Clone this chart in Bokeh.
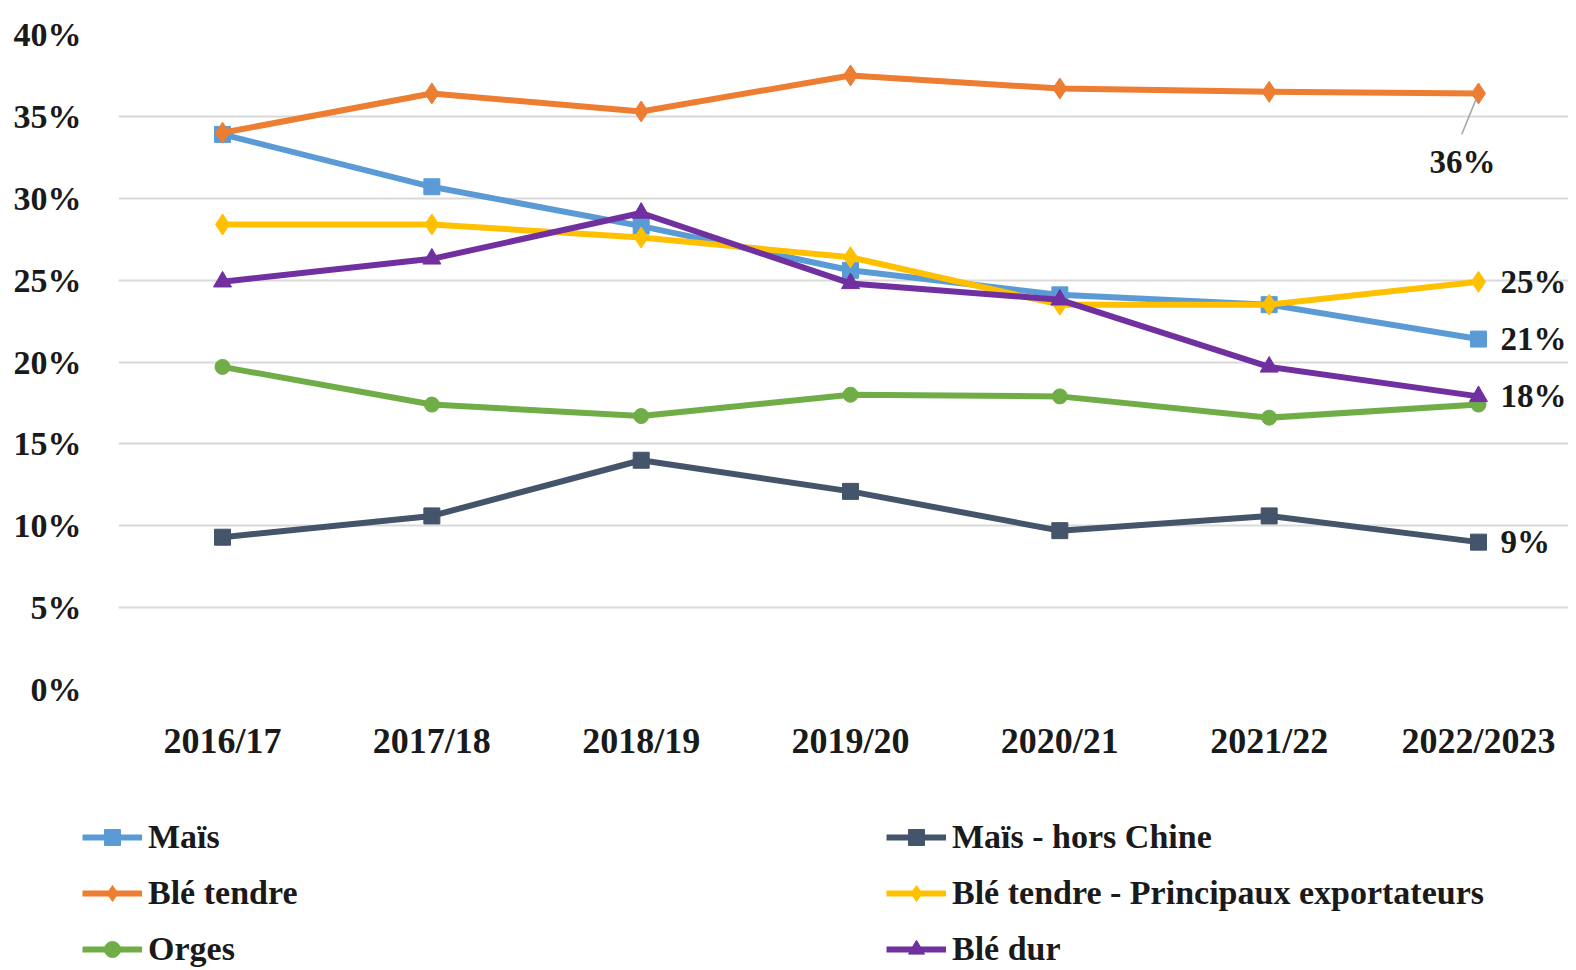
from bokeh.plotting import figure
from bokeh.layouts import column, row
from bokeh.models import FixedTicker, Legend, LegendItem, ColumnDataSource
from bokeh.embed import file_html
from bokeh.resources import INLINE
from bokeh.core.properties import value

categories = ["2016/17", "2017/18", "2018/19", "2019/20", "2020/21", "2021/22", "2022/2023"]

mais = [33.9, 30.7, 28.3, 25.6, 24.1, 23.5, 21.4]
mais_hors_chine = [9.3, 10.6, 14.0, 12.1, 9.7, 10.6, 9.0]
ble_tendre = [34.0, 36.4, 35.3, 37.5, 36.7, 36.5, 36.4]
ble_tendre_export = [28.4, 28.4, 27.6, 26.4, 23.5, 23.5, 24.9]
orges = [19.7, 17.4, 16.7, 18.0, 17.9, 16.6, 17.4]
ble_dur = [24.9, 26.3, 29.1, 24.8, 23.8, 19.7, 17.9]

y_ticks = [0, 5, 10, 15, 20, 25, 30, 35, 40]

FONT = "Liberation Serif"
FS = "33px"
INK = "#1a1a1a"

x = list(range(len(categories)))

p = figure(frame_width=1450, frame_height=655, min_border_left=118, min_border_top=34,
           min_border_right=0, min_border_bottom=100,
           x_range=(-0.497, 6.43), y_range=(0, 40),
           output_backend="svg", toolbar_location=None)
p.outline_line_color = None
p.xgrid.grid_line_color = None
p.ygrid.grid_line_color = "#D9D9D9"
p.ygrid.grid_line_width = 2

p.yaxis.ticker = FixedTicker(ticks=y_ticks)
p.yaxis.major_label_overrides = {t: f"{t}%" for t in y_ticks}
p.xaxis.ticker = FixedTicker(ticks=x)
p.xaxis.major_label_overrides = {i: c for i, c in enumerate(categories)}
for ax in (p.xaxis, p.yaxis):
    ax.axis_line_color = None
    ax.major_tick_line_color = None
    ax.minor_tick_line_color = None
    ax.major_label_text_font = FONT
    ax.major_label_text_font_style = "bold"
    ax.major_label_text_color = INK
p.yaxis.major_label_text_font_size = "34px"
p.xaxis.major_label_text_font_size = "36px"
p.yaxis.major_label_standoff = 31
p.xaxis.major_label_standoff = 25

series = [
    ("Maïs", mais, "#5B9BD5", "square", 16),
    ("Blé tendre", ble_tendre, "#ED7D31", "diamond", 21),
    ("Orges", orges, "#70AD47", "circle", 15),
    ("Maïs - hors Chine", mais_hors_chine, "#44546A", "square", 16),
    ("Blé tendre - Principaux exportateurs", ble_tendre_export, "#FFC000", "diamond", 21),
    ("Blé dur", ble_dur, "#7030A0", "triangle", 18),
]

for name, vals, color, marker, size in series:
    p.line(x, vals, line_color=color, line_width=6)
    p.scatter(x, vals, marker=marker, size=size, fill_color=color, line_color=color)

# end-of-series labels
last = len(categories) - 1
lab_vals = [ble_tendre_export[-1], mais[-1], ble_dur[-1], mais_hors_chine[-1]]
lab_src = ColumnDataSource(dict(x=[last + 0.105] * 4, y=lab_vals,
                                t=[f"{round(v)}%" for v in lab_vals]))
p.text(x="x", y="y", text="t", source=lab_src, text_font=value(FONT), text_font_style="bold",
       text_font_size=FS, text_align="left", text_baseline="middle", text_color=INK)

p.segment(x0=[last - 0.01], y0=[ble_tendre[-1] - 0.3], x1=[last - 0.08], y1=[ble_tendre[-1] - 2.5],
          line_color="#A6A6A6", line_width=1.5)
p.text(x=[last - 0.076], y=[ble_tendre[-1] - 4.2], text=[f"{round(ble_tendre[-1])}%"],
       text_font=value(FONT), text_font_style="bold", text_font_size=FS,
       text_align="center", text_baseline="middle", text_color=INK)

# legend figure (series drawn out of view; only the legend shows)
lg = figure(width=1568, height=181, min_border=0, output_backend="svg", toolbar_location=None,
            x_axis_location=None, y_axis_location=None,
            x_range=(0, 1), y_range=(1000, 1001))
lg.grid.visible = False
lg.outline_line_color = None
items = []
for name, vals, color, marker, size in series:
    l = lg.line(x, vals, line_color=color, line_width=6)
    s = lg.scatter(x, vals, marker=marker, size=size, fill_color=color, line_color=color)
    items.append(LegendItem(label=name, renderers=[l, s]))
legend = Legend(items=items, ncols=2, location=(82, 1),
                label_text_font=FONT, label_text_font_style="bold", label_text_font_size="34px",
                label_text_color=INK, glyph_width=60, glyph_height=40,
                label_width=722, spacing=16, padding=0, margin=0, label_standoff=6,
                border_line_color=None, background_fill_alpha=0)
lg.add_layout(legend, "center")

layout = column(p, row(lg), spacing=0)
open("out.html", "w").write(file_html(layout, INLINE))
